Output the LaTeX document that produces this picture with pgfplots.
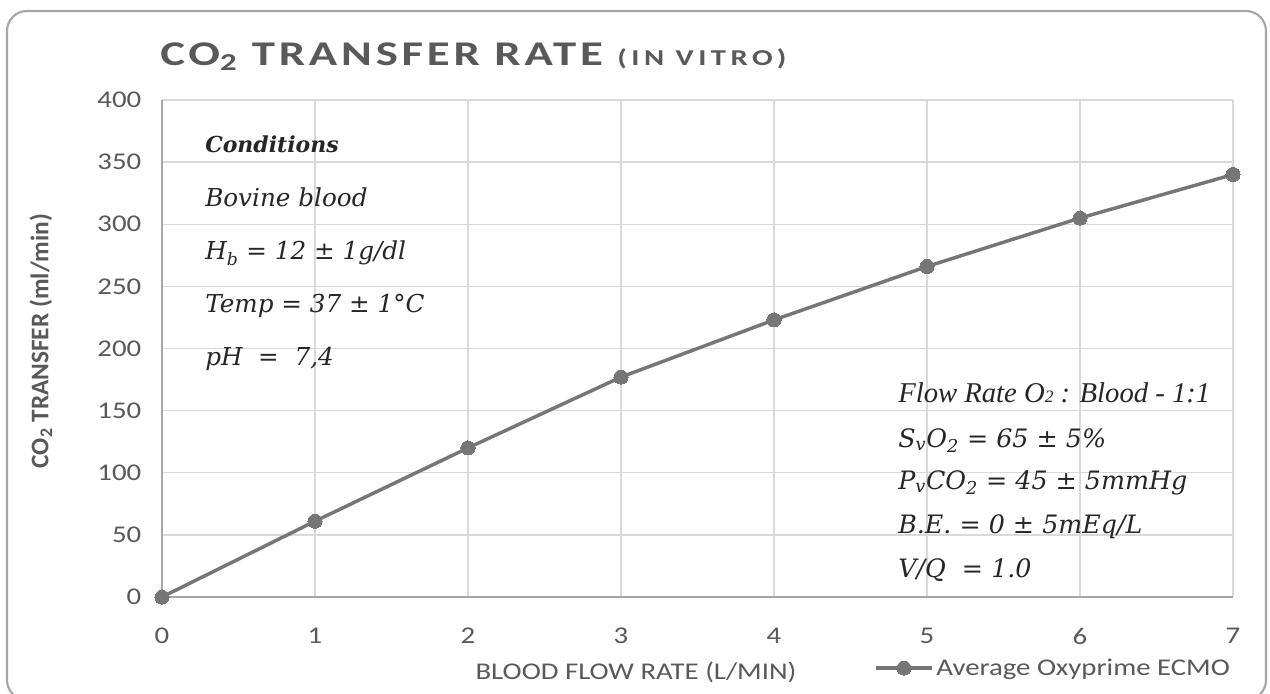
\documentclass[border=0pt]{standalone}
\usepackage{fontspec}
\usepackage{pgfplots}
\pgfplotsset{compat=1.18}
\setsansfont{Carlito}
\renewcommand\familydefault{\sfdefault}
\newfontfamily\calw[FakeStretch=1.2]{Carlito}
\newfontfamily\titlew[FakeStretch=1.35,LetterSpace=11]{Carlito}
\newfontfamily\subtw[FakeStretch=1.35,LetterSpace=20]{Carlito}
\newfontfamily\dvs{DejaVu Serif}
\newfontfamily\libs{Liberation Serif}
\definecolor{txt}{HTML}{595959}
\definecolor{ln}{HTML}{767676}
\definecolor{grd}{HTML}{D9D9D9}
\definecolor{axl}{HTML}{A6A6A6}
\definecolor{frm}{HTML}{A6A6A6}
\definecolor{ctxt}{HTML}{262626}
\begin{document}
\begin{tikzpicture}
\clip (-121.5pt,-72pt) rectangle (831pt,447.75pt);
\fill[white] (-121.5pt,-72pt) rectangle (831pt,447.75pt);
\begin{axis}[
 at={(0,0)}, anchor=south west, scale only axis,
 width=803.25pt, height=372.75pt,
 xmin=0, xmax=7, ymin=0, ymax=400,
 xtick={0,1,...,7}, ytick={0,50,...,400},
 grid=major, major grid style={grd,line width=1.1pt},
 axis x line=bottom, axis y line=left,
 axis line style={axl,line width=1.5pt,-},
 major tick length=0pt, tick style={draw=none},
 /pgf/number format/assume math mode=true,
 ticklabel style={font=\calw\fontsize{18}{20}\selectfont, text=txt},
 yticklabel style={xshift=-12pt},
 xticklabel style={yshift=-20pt},
 xlabel={BLOOD FLOW RATE (L/MIN)},
 xlabel style={font=\calw\fontsize{18}{20}\selectfont, text=txt, at={(axis description cs:0.4426,-0.151)}, anchor=center},
 ylabel={\textbf{CO\textsubscript{2} TRANSFER (ml/min)}},
 ylabel style={font=\fontsize{19}{21}\selectfont, text=txt, at={(axis description cs:-0.113,0.515)}, anchor=center},
 clip=false,
 legend style={at={(axis description cs:0.6648,-0.143)}, anchor=west, draw=none, fill=none,
   font=\calw\fontsize{18}{20}\selectfont, text=txt, inner sep=0pt},
 legend image code/.code={\draw[#1,mark repeat=2,mark phase=2] plot coordinates {(0pt,0pt) (21pt,0pt) (42pt,0pt)};},
]
\addplot[ln, line width=2.6pt, mark=*, mark size=5.3pt, mark options={fill=ln,draw=ln,line width=0pt}]
 coordinates {(0,0) (1,61) (2,120) (3,177) (4,223) (5,266) (6,305) (7,340)};
\addlegendentry{Average Oxyprime ECMO}
\end{axis}
\begin{scope}[x=0.75pt,y=-0.75pt,shift={(-121.5pt,447.75pt)}]
\draw[frm,line width=1.6pt,rounded corners=15pt] (7,11) rectangle (1266,700);
\node[anchor=base west,inner sep=0pt,text=txt] at (160,66) {\titlew\bfseries\fontsize{26}{29}\selectfont CO\textsubscript{2} TRANSFER RATE {\subtw\bfseries\fontsize{17}{19}\selectfont (IN VITRO)}};
\node[anchor=base west,inner sep=0pt,text=ctxt] at (205,153) {\dvs\bfseries\itshape\fontsize{16.5}{18}\selectfont Conditions};
\node[anchor=base west,inner sep=0pt,text=ctxt] at (205,207) {\dvs\itshape\fontsize{18.5}{20}\selectfont Bovine blood};
\node[anchor=base west,inner sep=0pt,text=ctxt] at (205,260) {\dvs\itshape\fontsize{18.5}{20}\selectfont H\textsubscript{b} = 12 ± 1g/dl};
\node[anchor=base west,inner sep=0pt,text=ctxt] at (205,313) {\dvs\itshape\fontsize{18.5}{20}\selectfont Temp = 37 ± 1°C};
\node[anchor=base west,inner sep=0pt,text=ctxt] at (205,366) {\dvs\itshape\fontsize{18.5}{20}\selectfont pH\ \ =\ \ 7,4};
\node[anchor=base west,inner sep=0pt,text=ctxt] at (898,402) {\libs\itshape\fontsize{21.5}{24}\selectfont Flow Rate O{\fontsize{13}{13}\selectfont 2} : Blood - 1:1};
\node[anchor=base west,inner sep=0pt,text=ctxt] at (898,447) {\dvs\itshape\fontsize{19}{22}\selectfont S\textsubscript{v}O\textsubscript{2} = 65 ± 5\%};
\node[anchor=base west,inner sep=0pt,text=ctxt] at (898,489) {\dvs\itshape\fontsize{19}{22}\selectfont P\textsubscript{v}CO\textsubscript{2} = 45 ± 5mmHg};
\node[anchor=base west,inner sep=0pt,text=ctxt] at (898,533) {\dvs\itshape\fontsize{19}{22}\selectfont B.E. = 0 ± 5mEq/L};
\node[anchor=base west,inner sep=0pt,text=ctxt] at (898,577) {\dvs\itshape\fontsize{19}{22}\selectfont V/Q\ \ = 1.0};
\end{scope}
\end{tikzpicture}
\end{document}
